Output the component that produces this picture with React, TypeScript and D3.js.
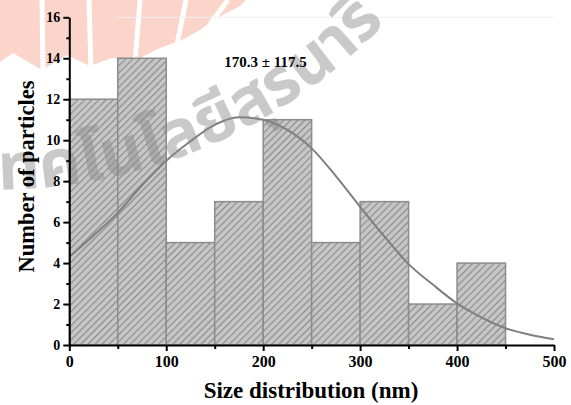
import React, { useEffect, useRef } from 'react';
import * as d3 from 'd3';

// histogram bins (nm) and counts
const binStarts = [0, 50, 100, 150, 200, 250, 300, 350, 400];
const binWidth = 50;
const counts = [12, 14, 5, 7, 11, 5, 7, 2, 4];

// fitted curve
const fitX = [0, 25, 50, 75, 100, 125, 150, 175, 200, 225, 250, 275, 300, 325, 350, 375, 400, 425, 450, 475, 500];
const fitY = [4.3, 5.35, 6.45, 7.8, 9.0, 9.95, 10.75, 11.12, 11.0, 10.5, 9.6, 8.25, 6.75, 5.3, 3.95, 2.95, 2.03, 1.35, 0.82, 0.5, 0.28];

const xTicks = [0, 100, 200, 300, 400, 500];
const xMinorTicks = [50, 150, 250, 350, 450];
const yTicks = [0, 2, 4, 6, 8, 10, 12, 14, 16];
const yMinorTicks = [1, 3, 5, 7, 9, 11, 13, 15];

const fitLabel = '170.3 ± 117.5';
const xTitle = 'Size distribution (nm)';
const yTitle = 'Number of particles';
const watermark = 'เทคโนโลยีสุรนารี';

export default function App() {
  const ref = useRef<SVGSVGElement>(null);

  useEffect(() => {
    document.body.style.margin = '0';
    const width = 571,
      height = 405,
      font = '"Liberation Serif", "Times New Roman", serif',
      x = d3.scaleLinear().domain([0, 500]).range([69.3, 554]),
      y = d3.scaleLinear().domain([0, 16]).range([345, 17.3]);

    const svg = d3.select(ref.current);
    svg.selectAll('*').remove();
    svg.attr('width', width).attr('height', height);

    const defs = svg.append('defs');
    const pat = defs.append('pattern')
      .attr('id', 'hatch')
      .attr('patternUnits', 'userSpaceOnUse')
      .attr('width', 5)
      .attr('height', 10)
      .attr('patternTransform', 'rotate(45)');
    pat.append('rect').attr('width', 5).attr('height', 10).attr('fill', '#c6c6c6');
    pat.append('line')
      .attr('x1', 0).attr('y1', 0).attr('x2', 0).attr('y2', 10)
      .attr('stroke', '#8a8a8a').attr('stroke-width', 2.2);

    // pink logo band at the top (watermark)
    const pink = svg.append('g');
    pink.append('path')
      .attr('d', 'M0,0 L246,0 L240,6 L213,20 L200,30 L182,40 L160,48 L136,60 L112,58 L90,66 L67,55 L42,70 L13,53 L0,62 Z')
      .attr('fill', '#fbd4ca');
    [[42, 0, 43, 72], [89, 0, 91, 70], [140, 0, 135, 62], [186, 0, 177, 45], [228, 0, 210, 24]].forEach(s => {
      pink.append('line')
        .attr('x1', s[0]).attr('y1', s[1]).attr('x2', s[2]).attr('y2', s[3])
        .attr('stroke', '#fff').attr('stroke-width', 5);
    });

    // faint frame top line
    svg.append('line')
      .attr('x1', x(50)).attr('x2', x(500)).attr('y1', y(16)).attr('y2', y(16))
      .attr('stroke', '#f1f1f1').attr('stroke-width', 1);

    // bars
    svg.append('g')
      .selectAll('rect')
      .data(counts)
      .enter()
      .append('rect')
      .attr('x', (d, i) => x(binStarts[i]))
      .attr('y', d => y(d))
      .attr('width', (d, i) => x(binStarts[i] + binWidth) - x(binStarts[i]))
      .attr('height', d => y(0) - y(d))
      .attr('fill', 'url(#hatch)')
      .attr('stroke', '#8c8c8c')
      .attr('stroke-width', 1.5);

    // fit curve
    const line = d3.line<number>()
      .x((d, i) => x(fitX[i]))
      .y(d => y(d))
      .curve(d3.curveMonotoneX);
    svg.append('path')
      .datum(fitY)
      .attr('d', line)
      .attr('fill', 'none')
      .attr('stroke', '#7f7f7f')
      .attr('stroke-width', 2);

    // grey arc watermark, under the axis text
    defs.append('path')
      .attr('id', 'wmArc')
      .attr('d', 'M-150,169 A534.7,534.7 0 0 0 531.7,-345');
    svg.append('text')
      .attr('fill', '#8a8a8a')
      .attr('opacity', 0.45)
      .style('font-family', '"Noto Sans Thai", "Noto Sans", sans-serif')
      .style('font-weight', 'bold')
      .style('font-size', '66px')
      .append('textPath')
      .attr('href', '#wmArc')
      .attr('startOffset', 128)
      .text(watermark);

    // axes
    const styleAxis = (g: any, size: number) => {
      g.select('.domain').attr('stroke', '#000').attr('stroke-width', 2);
      g.selectAll('.tick line').attr('stroke', '#000').attr('stroke-width', 2);
      g.selectAll('text')
        .attr('fill', '#000')
        .style('font-family', font)
        .style('font-weight', 'bold')
        .style('font-size', size + 'px');
    };

    svg.append('g')
      .attr('transform', `translate(0,${y(0)})`)
      .call(d3.axisBottom(x).tickValues(xMinorTicks).tickSize(4).tickSizeOuter(0).tickFormat(() => ''))
      .call(g => g.select('.domain').remove())
      .call(g => g.selectAll('.tick line').attr('stroke', '#000').attr('stroke-width', 2));
    svg.append('g')
      .attr('transform', `translate(0,${y(0)})`)
      .call(d3.axisBottom(x).tickValues(xTicks).tickSize(6).tickSizeOuter(0).tickPadding(5))
      .call(g => styleAxis(g, 16));

    svg.append('g')
      .attr('transform', `translate(${x(0)},0)`)
      .call(d3.axisLeft(y).tickValues(yMinorTicks).tickSize(3).tickSizeOuter(0).tickFormat(() => ''))
      .call(g => g.select('.domain').remove())
      .call(g => g.selectAll('.tick line').attr('stroke', '#000').attr('stroke-width', 2));
    svg.append('g')
      .attr('transform', `translate(${x(0)},0)`)
      .call(d3.axisLeft(y).tickValues(yTicks).tickSize(6).tickSizeOuter(0).tickPadding(3))
      .call(g => styleAxis(g, 14));

    // labels
    svg.append('text')
      .attr('x', 265.5).attr('y', 66.5)
      .attr('text-anchor', 'middle')
      .style('font-family', font).style('font-weight', 'bold').style('font-size', '15px')
      .text(fitLabel);

    svg.append('text')
      .attr('x', 311).attr('y', 398)
      .attr('text-anchor', 'middle')
      .style('font-family', font).style('font-weight', 'bold').style('font-size', '23px')
      .text(xTitle);

    svg.append('text')
      .attr('transform', 'translate(34,176.5) rotate(-90)')
      .attr('text-anchor', 'middle')
      .style('font-family', font).style('font-weight', 'bold').style('font-size', '22.5px')
      .text(yTitle);
  }, []);

  return (
    <div style={{ position: 'relative' }}>
      <svg ref={ref} style={{ display: 'block' }} />
    </div>
  );
}
